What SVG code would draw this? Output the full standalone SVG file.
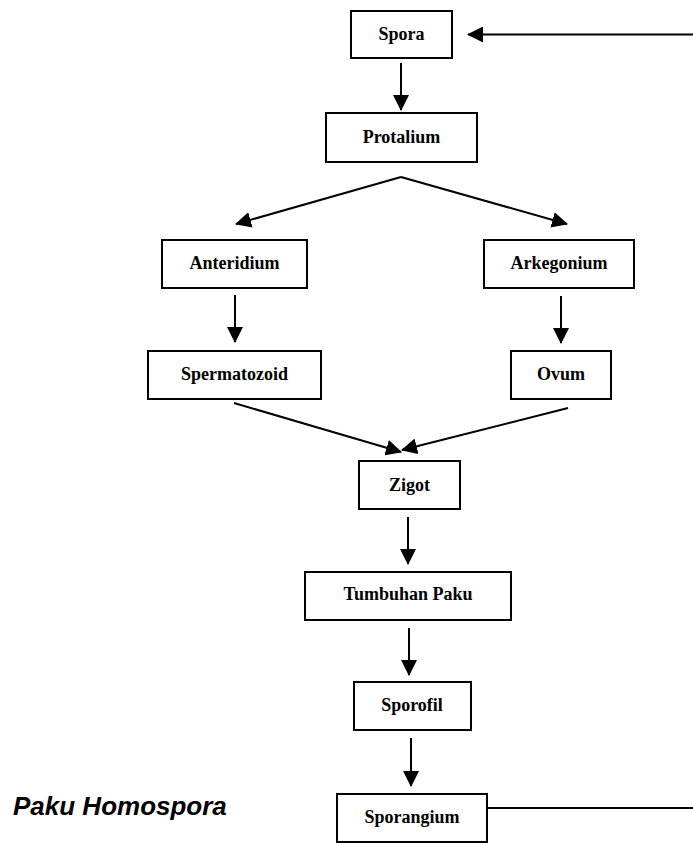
<svg xmlns="http://www.w3.org/2000/svg" width="693" height="843" viewBox="0 0 693 843">
<style>
.box{fill:#fff;stroke:#000;stroke-width:2}
.lbl{font-family:"Liberation Serif","Times New Roman",serif;font-weight:bold;font-size:18px;text-anchor:middle;fill:#000}
.con{stroke:#000;stroke-width:2;fill:none}
.arr{marker-end:url(#ah)}
.title{font-family:"Liberation Sans",Arial,sans-serif;font-weight:bold;font-style:italic;font-size:26px;fill:#000}
</style>
<defs>
<marker id="ah" viewBox="0 0 16 16" refX="15" refY="8" markerWidth="16" markerHeight="16" markerUnits="userSpaceOnUse" orient="auto">
<path d="M0,0 L16,8 L0,16 Z" fill="#000"/>
</marker>
</defs>
<rect width="693" height="843" fill="#fff"/>
<g id="connectors">
<line class="con arr" x1="693" y1="34.5" x2="468" y2="34.5"/>
<line class="con arr" x1="401" y1="63" x2="401" y2="110"/>
<line class="con arr" x1="401" y1="177" x2="236" y2="224"/>
<line class="con arr" x1="401" y1="177" x2="567" y2="224"/>
<line class="con arr" x1="235" y1="295" x2="235" y2="342"/>
<line class="con arr" x1="561" y1="296" x2="561" y2="343"/>
<line class="con arr" x1="234" y1="403" x2="401" y2="452"/>
<line class="con arr" x1="568" y1="408" x2="402" y2="450"/>
<line class="con arr" x1="408" y1="517" x2="408" y2="564"/>
<line class="con arr" x1="409" y1="628" x2="409" y2="675"/>
<line class="con arr" x1="411" y1="738" x2="411" y2="786"/>
<line class="con" x1="487" y1="808" x2="693" y2="808"/>
</g>
<g id="spora"><rect class="box" x="351" y="11" width="101" height="47"/><text class="lbl" x="401.5" y="39.5">Spora</text></g>
<g id="protalium"><rect class="box" x="326" y="113" width="151" height="49"/><text class="lbl" x="401.5" y="143">Protalium</text></g>
<g id="anteridium"><rect class="box" x="162" y="240" width="145" height="48"/><text class="lbl" x="234.5" y="269">Anteridium</text></g>
<g id="arkegonium"><rect class="box" x="484" y="240" width="150" height="48"/><text class="lbl" x="559" y="269">Arkegonium</text></g>
<g id="spermatozoid"><rect class="box" x="148" y="351" width="173" height="48"/><text class="lbl" x="234.5" y="379.5">Spermatozoid</text></g>
<g id="ovum"><rect class="box" x="511" y="351" width="100" height="48"/><text class="lbl" x="561" y="379.5">Ovum</text></g>
<g id="zigot"><rect class="box" x="359" y="461" width="101" height="48"/><text class="lbl" x="409.5" y="490.5">Zigot</text></g>
<g id="tumbuhan-paku"><rect class="box" x="305" y="572" width="206" height="48"/><text class="lbl" x="408" y="600">Tumbuhan Paku</text></g>
<g id="sporofil"><rect class="box" x="354" y="682" width="117" height="48"/><text class="lbl" x="412" y="710.5">Sporofil</text></g>
<g id="sporangium"><rect class="box" x="337" y="794" width="150" height="48"/><text class="lbl" x="412" y="823">Sporangium</text></g>
<text id="title" class="title" x="13" y="815">Paku Homospora</text>
</svg>
